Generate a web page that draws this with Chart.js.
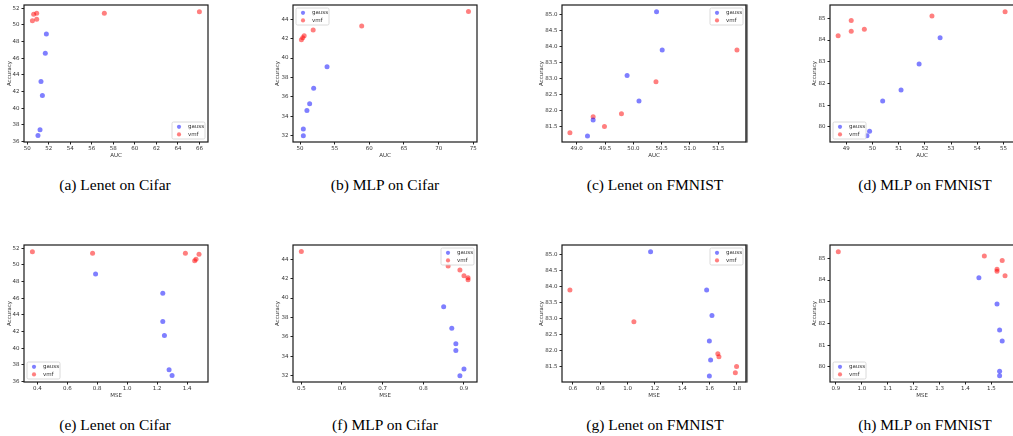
<!DOCTYPE html>
<html>
<head>
<meta charset="utf-8">
<script src="https://cdn.jsdelivr.net/npm/chart.js@4.4.0/dist/chart.umd.min.js"></script>
<style>
  html, body { margin: 0; padding: 0; background: #fff; overflow: hidden; }
  body { width: 1013px; height: 436px; position: relative; }
  .box { position: absolute; }
  .cap { position: absolute; width: 270px; text-align: center; font-family: "Liberation Serif", "Times New Roman", serif; font-size: 15.5px; color: #000; white-space: nowrap; }
</style>
</head>
<body>
<div id="wrap"></div>
<script>
// accuracy / auc / mse per model+dataset, gauss and vmf (same order in each group)
const accLenetCifarGauss = [48.9, 46.6, 43.2, 41.5, 37.4, 36.7];
const aucLenetCifarGauss = [51.77, 51.67, 51.27, 51.4, 51.18, 50.99];
const mseLenetCifarGauss = [0.789, 1.238, 1.238, 1.249, 1.28, 1.30];
const accLenetCifarVmf = [51.6, 50.5, 50.7, 51.3, 51.4, 51.4];
const aucLenetCifarVmf = [66.0, 50.47, 50.87, 50.59, 50.87, 57.16];
const mseLenetCifarVmf = [0.367, 1.451, 1.46, 1.48, 1.389, 0.769];

const accMlpCifarGauss = [39.1, 36.9, 35.3, 34.6, 32.7, 32.0];
const aucMlpCifarGauss = [53.9, 51.97, 51.39, 51.0, 50.48, 50.48];
const mseMlpCifarGauss = [0.85, 0.87, 0.88, 0.88, 0.90, 0.89];
const accMlpCifarVmf = [44.8, 43.3, 42.9, 42.3, 42.1, 41.9];
const aucMlpCifarVmf = [74.3, 58.9, 51.9, 50.6, 50.4, 50.2];
const mseMlpCifarVmf = [0.50, 0.861, 0.89, 0.90, 0.91, 0.91];

const accLenetFmGauss = [85.1, 83.9, 83.1, 82.3, 81.7, 81.2];
const aucLenetFmGauss = [50.41, 50.51, 49.89, 50.1, 49.29, 49.19];
const mseLenetFmGauss = [1.168, 1.578, 1.617, 1.598, 1.607, 1.598];
const accLenetFmVmf = [83.9, 82.9, 81.9, 81.8, 81.5, 81.3];
const aucLenetFmVmf = [51.83, 50.4, 49.79, 49.29, 49.49, 48.88];
const mseLenetFmVmf = [0.578, 1.046, 1.66, 1.668, 1.797, 1.788];

const accMlpFmGauss = [84.1, 82.9, 81.7, 81.2, 79.8, 79.6];
const aucMlpFmGauss = [52.58, 51.78, 51.09, 50.39, 49.89, 49.79];
const mseMlpFmGauss = [1.452, 1.522, 1.532, 1.542, 1.532, 1.532];
const accMlpFmVmf = [85.3, 85.1, 84.9, 84.5, 84.4, 84.2];
const aucMlpFmVmf = [55.06, 52.27, 49.19, 49.69, 49.19, 48.69];
const mseMlpFmVmf = [0.909, 1.473, 1.542, 1.522, 1.522, 1.553];

// tick labels
const ticksAccCifarLenet = ['36','38','40','42','44','46','48','50','52'];
const ticksAccCifarMlp = ['32','34','36','38','40','42','44'];
const ticksAccFmLenet = ['81.5','82.0','82.5','83.0','83.5','84.0','84.5','85.0'];
const ticksAccFmMlp = ['80','81','82','83','84','85'];
const ticksAucA = ['50','52','54','56','58','60','62','64','66'];
const ticksAucB = ['50','55','60','65','70','75'];
const ticksAucC = ['49.0','49.5','50.0','50.5','51.0','51.5'];
const ticksAucD = ['49','50','51','52','53','54','55'];
const ticksMseE = ['0.4','0.6','0.8','1.0','1.2','1.4'];
const ticksMseF = ['0.5','0.6','0.7','0.8','0.9'];
const ticksMseG = ['0.6','0.8','1.0','1.2','1.4','1.6','1.8'];
const ticksMseH = ['0.9','1.0','1.1','1.2','1.3','1.4','1.5'];

const captions = ['(a) Lenet on Cifar','(b) MLP on Cifar','(c) Lenet on FMNIST','(d) MLP on FMNIST',
                  '(e) Lenet on Cifar','(f) MLP on Cifar','(g) Lenet on FMNIST','(h) MLP on FMNIST'];

function pts(xs, ys) { return xs.map((v, i) => ({ x: v, y: ys[i] })); }

const tickFont = { family: 'DejaVu Sans', size: 5.5 };
const txtColor = '#333';

const frame = {
  id: 'frame',
  afterDraw(chart, args, opts) {
    const c = chart.ctx, a = chart.chartArea;
    c.save();
    if (opts.edge) {
      // grey band on the right edge of the source image
      c.strokeStyle = '#8a8a8a';
      c.lineWidth = 2.5;
      c.beginPath();
      c.moveTo(a.right + 0.8, a.top - 0.6);
      c.lineTo(a.right + 0.8, a.bottom + 0.6);
      c.stroke();
    }
    c.strokeStyle = '#1a1a1a';
    c.lineWidth = 1.2;
    c.strokeRect(a.left, a.top, a.right - a.left, a.bottom - a.top);
    // legend
    const w = 33, h = 17, m = 3;
    let bx = opts.corner.indexOf('right') >= 0 ? a.right - m - w : a.left + m;
    let by = opts.corner.indexOf('lower') >= 0 ? a.bottom - m - h : a.top + m;
    c.fillStyle = 'rgba(255,255,255,0.85)';
    c.strokeStyle = '#d0d0d0';
    c.lineWidth = 0.8;
    c.beginPath();
    c.roundRect(bx, by, w, h, 1.5);
    c.fill();
    c.stroke();
    const items = [['gauss', 'rgba(0,0,255,0.5)'], ['vmf', 'rgba(255,0,0,0.5)']];
    c.font = '5.5px "DejaVu Sans"';
    c.textBaseline = 'middle';
    items.forEach((it, i) => {
      const yy = by + 4.8 + i * 7.6;
      c.fillStyle = it[1];
      c.beginPath();
      c.arc(bx + 7, yy, 2.1, 0, Math.PI * 2);
      c.fill();
      c.fillStyle = txtColor;
      c.fillText(it[0], bx + 16, yy);
    });
    c.restore();
  }
};

const padL = 30, padT = 4, padR = 6, padB = 20;

function makeChart(cfg) {
  const W = cfg.R - cfg.L, H = cfg.B - cfg.T;
  const div = document.createElement('div');
  div.className = 'box';
  div.style.left = (cfg.L - padL) + 'px';
  div.style.top = (cfg.T - padT) + 'px';
  div.style.width = (W + padL + padR) + 'px';
  div.style.height = (H + padT + padB) + 'px';
  const cv = document.createElement('canvas');
  div.appendChild(cv);
  document.getElementById('wrap').appendChild(div);

  new Chart(cv, {
    type: 'scatter',
    data: {
      datasets: [
        { label: 'gauss', data: pts(cfg.gx, cfg.gy), backgroundColor: 'rgba(0,0,255,0.5)', borderWidth: 0, pointRadius: 2.5 },
        { label: 'vmf', data: pts(cfg.vx, cfg.vy), backgroundColor: 'rgba(255,0,0,0.5)', borderWidth: 0, pointRadius: 2.5 }
      ]
    },
    options: {
      responsive: true,
      maintainAspectRatio: false,
      animation: false,
      layout: { padding: { left: 0, top: padT, right: padR, bottom: 0 } },
      plugins: { legend: { display: false }, tooltip: { enabled: false }, frame: { corner: cfg.corner, edge: !!cfg.edge } },
      scales: {
        x: {
          type: 'linear', min: cfg.xmin, max: cfg.xmax,
          afterBuildTicks: s => { s.ticks = cfg.xt.map(t => ({ value: parseFloat(t) })); },
          afterFit: s => { s.height = padB; s.paddingLeft = 0; s.paddingRight = 0; },
          ticks: { font: tickFont, color: txtColor, padding: 0.5, maxRotation: 0, autoSkip: false,
                   callback: (v, i) => cfg.xt[i] },
          grid: { drawOnChartArea: false, drawTicks: true, tickLength: 2.5, color: '#222' },
          border: { display: false },
          title: { display: true, text: cfg.xlabel, font: tickFont, color: txtColor, padding: { top: 0, bottom: 3.2 } }
        },
        y: {
          type: 'linear', min: cfg.ymin, max: cfg.ymax,
          afterBuildTicks: s => { s.ticks = cfg.yt.map(t => ({ value: parseFloat(t) })); },
          afterFit: s => { s.width = padL; s.paddingTop = 0; s.paddingBottom = 0; },
          ticks: { font: tickFont, color: txtColor, padding: 2, autoSkip: false,
                   callback: (v, i) => cfg.yt[i] },
          grid: { drawOnChartArea: false, drawTicks: true, tickLength: 2.5, color: '#222' },
          border: { display: false },
          title: { display: true, text: 'Accuracy', font: tickFont, color: txtColor,
                   padding: { top: padL - cfg.gap - 3.3, bottom: 0 } }
        }
      }
    },
    plugins: [frame]
  });
}

const top1 = 5, bot1 = 142, top2 = 245, bot2 = 382;
const cols = [[24, 208], [293, 477], [562, 746], [830, 1014]];

makeChart({ L: cols[0][0], R: cols[0][1], T: top1, B: bot1, xmin: 49.69, xmax: 66.8, ymin: 35.92, ymax: 52.4,
  xt: ticksAucA, yt: ticksAccCifarLenet, xlabel: 'AUC', gap: 14, corner: 'lower right',
  gx: aucLenetCifarGauss, gy: accLenetCifarGauss, vx: aucLenetCifarVmf, vy: accLenetCifarVmf });
makeChart({ L: cols[1][0], R: cols[1][1], T: top1, B: bot1, xmin: 48.99, xmax: 75.53, ymin: 31.35, ymax: 45.47,
  xt: ticksAucB, yt: ticksAccCifarMlp, xlabel: 'AUC', gap: 15, corner: 'upper left',
  gx: aucMlpCifarGauss, gy: accMlpCifarGauss, vx: aucMlpCifarVmf, vy: accMlpCifarVmf });
makeChart({ L: cols[2][0], R: cols[2][1], T: top1, B: bot1, xmin: 48.74, xmax: 51.99, ymin: 81.01, ymax: 85.31,
  xt: ticksAucC, yt: ticksAccFmLenet, xlabel: 'AUC', gap: 20, corner: 'upper right', edge: true,
  gx: aucLenetFmGauss, gy: accLenetFmGauss, vx: aucLenetFmVmf, vy: accLenetFmVmf });
makeChart({ L: cols[3][0], R: cols[3][1], T: top1, B: bot1, xmin: 48.38, xmax: 55.4, ymin: 79.31, ymax: 85.61,
  xt: ticksAucD, yt: ticksAccFmMlp, xlabel: 'AUC', gap: 15, corner: 'lower left',
  gx: aucMlpFmGauss, gy: accMlpFmGauss, vx: aucMlpFmVmf, vy: accMlpFmVmf });

makeChart({ L: cols[0][0], R: cols[0][1], T: top2, B: bot2, xmin: 0.311, xmax: 1.54, ymin: 35.92, ymax: 52.4,
  xt: ticksMseE, yt: ticksAccCifarLenet, xlabel: 'MSE', gap: 14.5, corner: 'lower left',
  gx: mseLenetCifarGauss, gy: accLenetCifarGauss, vx: mseLenetCifarVmf, vy: accLenetCifarVmf });
makeChart({ L: cols[1][0], R: cols[1][1], T: top2, B: bot2, xmin: 0.4795, xmax: 0.932, ymin: 31.35, ymax: 45.47,
  xt: ticksMseF, yt: ticksAccCifarMlp, xlabel: 'MSE', gap: 15, corner: 'upper right',
  gx: mseMlpCifarGauss, gy: accMlpCifarGauss, vx: mseMlpCifarVmf, vy: accMlpCifarVmf });
makeChart({ L: cols[2][0], R: cols[2][1], T: top2, B: bot2, xmin: 0.52, xmax: 1.866, ymin: 81.01, ymax: 85.31,
  xt: ticksMseG, yt: ticksAccFmLenet, xlabel: 'MSE', gap: 20, corner: 'upper right', edge: true,
  gx: mseLenetFmGauss, gy: accLenetFmGauss, vx: mseLenetFmVmf, vy: accLenetFmVmf });
makeChart({ L: cols[3][0], R: cols[3][1], T: top2, B: bot2, xmin: 0.877, xmax: 1.5876, ymin: 79.31, ymax: 85.61,
  xt: ticksMseH, yt: ticksAccFmMlp, xlabel: 'MSE', gap: 15, corner: 'lower left',
  gx: mseMlpFmGauss, gy: accMlpFmGauss, vx: mseMlpFmVmf, vy: accMlpFmVmf });

// captions
const capCenters = [115, 385, 655, 925];
captions.forEach((t, i) => {
  const d = document.createElement('div');
  d.className = 'cap';
  d.textContent = t;
  d.style.left = (capCenters[i % 4] - 135) + 'px';
  d.style.top = (i < 4 ? 176 : 416) + 'px';
  document.getElementById('wrap').appendChild(d);
});
</script>
</body>
</html>
